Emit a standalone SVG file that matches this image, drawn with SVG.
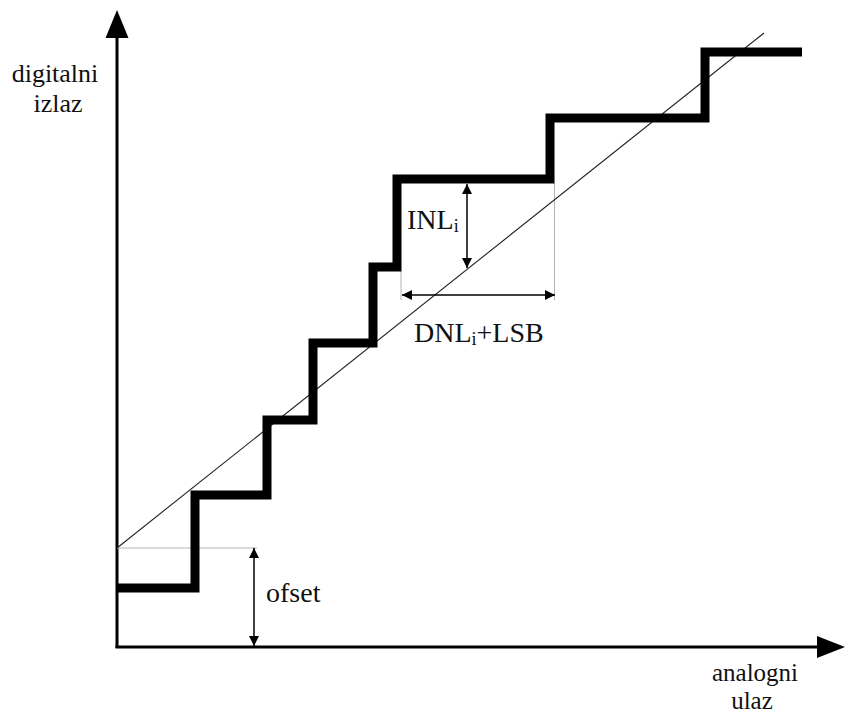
<svg xmlns="http://www.w3.org/2000/svg" width="850" height="717" viewBox="0 0 850 717">
<style>
text{font-family:"Liberation Serif","Times New Roman",serif;fill:#111}
.lbl{font-size:26px}
.sm{font-size:25px}
.big{font-size:28px}
.axis{stroke:#000;stroke-width:3;fill:none}
.stair{stroke:#000;stroke-width:9;fill:none;stroke-linejoin:miter;stroke-linecap:butt}
.ideal{stroke:#222;stroke-width:1.1;fill:none}
.guide{stroke:#b4b4b4;stroke-width:1;fill:none}
.dim{stroke:#000;stroke-width:1.5;fill:none;marker-start:url(#sa);marker-end:url(#sa)}
</style>
<defs>
<marker id="sa" viewBox="0 0 10 10" refX="10" refY="5" markerWidth="10" markerHeight="10" markerUnits="userSpaceOnUse" orient="auto-start-reverse">
<path d="M0,0 L10,5 L0,10 z" fill="#000"/>
</marker>
</defs>
<rect width="850" height="717" fill="#fff"/>
<g id="axes">
<line class="axis" x1="117" y1="648" x2="117" y2="34"/>
<path d="M117,10 L128.5,38 L105.5,38 z" fill="#000"/>
<line class="axis" x1="115.5" y1="647" x2="820" y2="647"/>
<path d="M845,647 L817,636 L817,658 z" fill="#000"/>
</g>
<g id="guides">
<line class="guide" x1="117" y1="548" x2="257" y2="548"/>
<line class="guide" x1="401" y1="271" x2="401" y2="300"/>
<line class="guide" x1="554.5" y1="183" x2="554.5" y2="300"/>
</g>
<g id="ideal-line">
<line class="ideal" x1="117" y1="548" x2="764" y2="33"/>
</g>
<g id="staircase">
<polyline class="stair" points="117,588 195,588 195,495 267,495 267,420 313,420 313,343 373,343 373,267 397,267 397,179 550,179 550,118 705,118 705,52 802,52"/>
</g>
<g id="connectors">
<line class="dim" x1="467" y1="184" x2="467" y2="268"/>
<line class="dim" x1="402" y1="295" x2="555" y2="295"/>
<line class="dim" x1="254" y1="548" x2="254" y2="646"/>
</g>
<g id="labels">
<text class="lbl" x="55" y="82" text-anchor="middle">digitalni</text>
<text class="lbl" x="58" y="112" text-anchor="middle">izlaz</text>
<text class="big" x="407" y="229">INL<tspan font-size="18" dy="3">i</tspan></text>
<text class="big" x="414" y="342">DNL<tspan font-size="18" dy="3">i</tspan><tspan dy="-3">+LSB</tspan></text>
<text class="big" x="266" y="602">ofset</text>
<text class="sm" x="755" y="681" text-anchor="middle">analogni</text>
<text class="sm" x="752" y="709" text-anchor="middle">ulaz</text>
</g>
</svg>
